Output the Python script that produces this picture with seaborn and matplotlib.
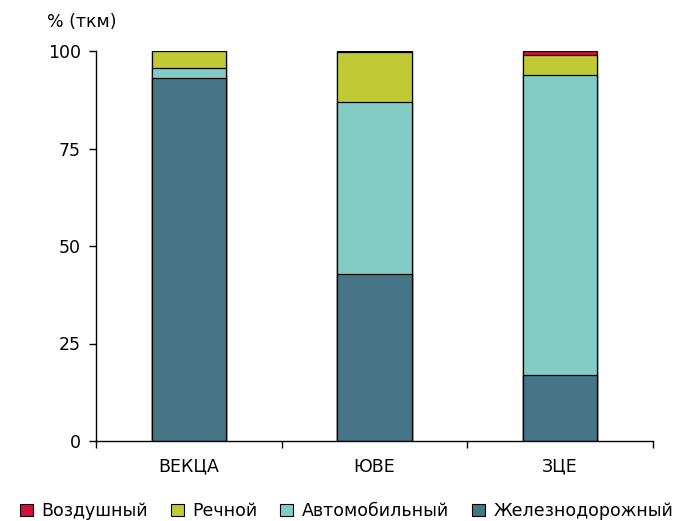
import numpy as np
import pandas as pd
import matplotlib
matplotlib.use("Agg")
import matplotlib.pyplot as plt
from matplotlib.patches import Patch
import seaborn as sns

# Freight turnover structure by mode of transport, % of tonne-km
regions = ["ВЕКЦА", "ЮВЕ", "ЗЦЕ"]
modes = ["Воздушный", "Речной", "Автомобильный", "Железнодорожный"]
rail = [93.1, 42.9, 17.0]
road = [2.5, 44.1, 76.8]
river = [4.4, 12.7, 5.2]
air = [0.0, 0.3, 1.0]

colors = {
    "Воздушный": "#D2103C",
    "Речной": "#C0CA34",
    "Автомобильный": "#84CBC6",
    "Железнодорожный": "#477588",
}

sns.set_style("white")
plt.rcParams["font.family"] = ["DejaVu Sans"]
plt.rcParams["text.color"] = "black"
plt.rcParams["xtick.color"] = "black"
plt.rcParams["ytick.color"] = "black"

FS = 12.5

df = pd.DataFrame({"region": regions, "Железнодорожный": rail,
                   "Автомобильный": road, "Речной": river, "Воздушный": air})
stack_order = ["Железнодорожный", "Автомобильный", "Речной", "Воздушный"]
cum = df[stack_order].cumsum(axis=1)

fig = plt.figure(figsize=(6.8, 5.21), dpi=100)
ax = fig.add_axes([96 / 680, 1 - 441 / 521, 557 / 680, 390 / 521])

# draw cumulative layers from the top down so each lower segment covers the one above
for mode in reversed(stack_order):
    sns.barplot(x=df["region"], y=cum[mode], color=colors[mode], width=0.4,
                edgecolor="black", linewidth=0.9, saturation=1, ax=ax)

ax.set_xlim(-0.5, 2.5)
ax.set_ylim(0, 100)
ax.set_yticks([0, 25, 50, 75, 100])
ax.set_xlabel("")
ax.set_ylabel("")
for side in ["top", "right"]:
    ax.spines[side].set_visible(False)
for side in ["left", "bottom"]:
    ax.spines[side].set_color("black")
    ax.spines[side].set_linewidth(1.0)
ax.tick_params(axis="y", direction="out", length=5, width=1, color="black",
               labelsize=FS, pad=6, left=True)
ax.tick_params(axis="x", which="major", length=0, labelsize=FS, pad=12)
ax.set_xticks([-0.5, 0.5, 1.5, 2.5], minor=True)
ax.tick_params(axis="x", which="minor", direction="out", length=5, width=1,
               color="black", bottom=True)

fig.text(47 / 680, 1 - 22 / 521, "% (ткм)", fontsize=FS, va="center", ha="left")

handles = [Patch(facecolor=colors[m], edgecolor="black", linewidth=0.8) for m in modes]
fig.legend(handles, modes, loc="center", bbox_to_anchor=(0.51, 1 - 511 / 521),
           ncol=4, frameon=False, fontsize=FS, handlelength=0.75, handleheight=0.75,
           handletextpad=0.5, columnspacing=1.3, borderpad=0)

fig.savefig("out.png", dpi=100)
